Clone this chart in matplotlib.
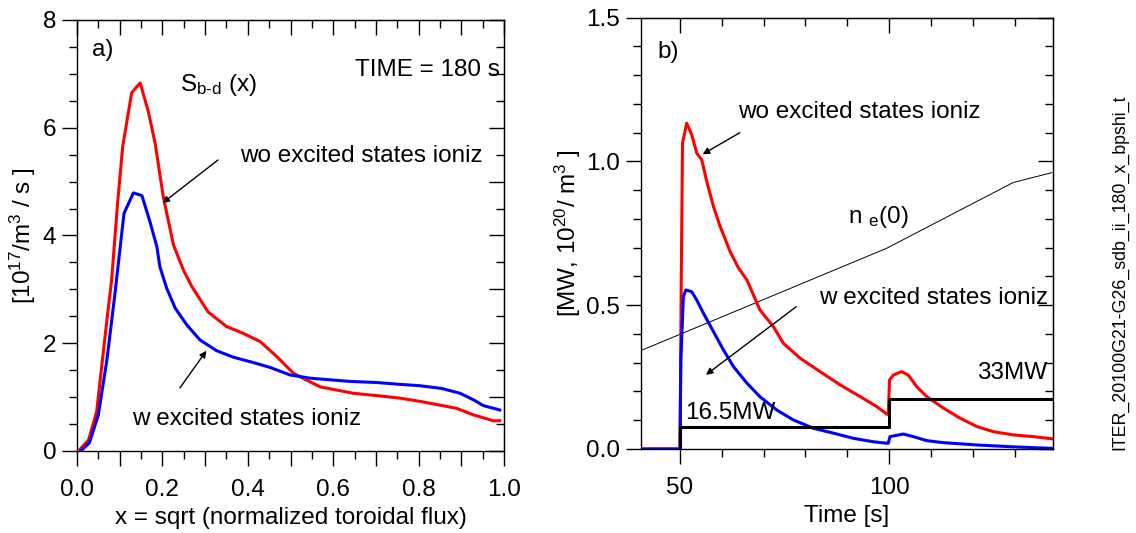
import matplotlib
matplotlib.use("Agg")
import matplotlib.pyplot as plt
from matplotlib.ticker import MultipleLocator, FixedLocator, FuncFormatter

plt.rcParams["font.family"] = ["Liberation Sans", "DejaVu Sans"]
plt.rcParams["mathtext.fontset"] = "custom"
plt.rcParams["mathtext.rm"] = "Liberation Sans"
plt.rcParams["mathtext.it"] = "Liberation Sans:italic"

# panel a) source profile S_b-d(x) at t = 180 s
x_wo = [0.007, 0.027, 0.046, 0.07, 0.081, 0.095, 0.107, 0.128, 0.148, 0.167, 0.183,
        0.202, 0.226, 0.249, 0.269, 0.307, 0.350, 0.390, 0.429, 0.468, 0.507, 0.569,
        0.647, 0.710, 0.756, 0.803, 0.850, 0.889, 0.928, 0.975, 0.99]
s_wo = [0.03, 0.2, 0.73, 2.43, 3.17, 4.6, 5.65, 6.65, 6.83, 6.3, 5.71,
        4.72, 3.82, 3.36, 3.05, 2.58, 2.31, 2.18, 2.03, 1.75, 1.44, 1.19,
        1.07, 1.02, 0.98, 0.92, 0.85, 0.79, 0.67, 0.56, 0.56]
x_w = [0.009, 0.029, 0.05, 0.07, 0.089, 0.110, 0.132, 0.152, 0.171, 0.187, 0.194,
       0.210, 0.230, 0.257, 0.288, 0.327, 0.366, 0.413, 0.452, 0.499, 0.546, 0.593,
       0.639, 0.702, 0.749, 0.803, 0.854, 0.897, 0.928, 0.952, 0.99]
s_w = [0.0, 0.15, 0.67, 1.69, 2.93, 4.41, 4.79, 4.74, 4.25, 3.79, 3.42,
       3.02, 2.65, 2.34, 2.06, 1.86, 1.74, 1.64, 1.55, 1.41, 1.35, 1.32,
       1.29, 1.27, 1.24, 1.21, 1.16, 1.07, 0.95, 0.84, 0.76]

# panel b) time traces
t_wo = [40.6, 50.0, 50.3, 50.6, 51.6, 52.8, 54.0, 55.2, 56.4, 58.0, 59.6, 62.0, 64.0,
        66.0, 69.1, 72.3, 74.7, 78.7, 83.5, 88.3, 93.1, 97.1, 99.4, 99.8, 100.1,
        101.0, 103.0, 104.6, 106.6, 109.0, 113.0, 117.0, 121.0, 125.0, 129.7,
        134.5, 139.2]
p_wo = [0.0, 0.0, 0.6, 1.064, 1.133, 1.093, 1.029, 1.006, 0.930, 0.843, 0.774, 0.686, 0.629,
        0.588, 0.484, 0.426, 0.368, 0.316, 0.269, 0.223, 0.182, 0.147, 0.122, 0.12, 0.240,
        0.257, 0.269, 0.257, 0.217, 0.182, 0.142, 0.107, 0.078, 0.060, 0.049,
        0.043, 0.035]
t_w = [40.6, 50.0, 50.2, 50.8, 51.4, 52.8, 54.0, 55.6, 58.0, 60.4, 62.8, 66.0, 69.1,
       73.1, 77.1, 81.9, 86.7, 91.5, 96.3, 99.4, 99.8, 100.2, 103.4, 105.8, 109.0,
       113.0, 121.0, 129.0, 139.2]
p_w = [0.0, 0.0, 0.31, 0.53, 0.553, 0.547, 0.518, 0.472, 0.408, 0.344, 0.286, 0.229, 0.182,
       0.136, 0.101, 0.072, 0.055, 0.037, 0.025, 0.020, 0.02, 0.043, 0.052, 0.043, 0.029,
       0.022, 0.014, 0.008, 0.002]
t_nbi = [50.0, 50.0, 100.0, 100.0, 139.2]
p_nbi = [0.0, 0.077, 0.077, 0.173, 0.173]
t_ne = [40.6, 99.4, 115.0, 129.7, 138.9]
n_e0 = [0.342, 0.698, 0.816, 0.927, 0.961]

RED = "#ff0000"
BLUE = "#0000ff"
FS = 17.5


def add_frame_ticks(ax, xmaj, xmin, ymaj, ymin):
    # outward ticks on left/bottom, inward ticks on top/right
    ax.tick_params(which="major", direction="out", length=11, width=1.0,
                   labelsize=FS, pad=4)
    ax.tick_params(axis="x", which="major", pad=9)
    ax.tick_params(which="minor", direction="out", length=5.5, width=1.0)
    top = ax.secondary_xaxis("top")
    right = ax.secondary_yaxis("right")
    top.xaxis.set_major_locator(xmaj)
    top.xaxis.set_minor_locator(xmin)
    right.yaxis.set_major_locator(ymaj)
    right.yaxis.set_minor_locator(ymin)
    for s in (top, right):
        s.tick_params(which="major", direction="in", length=11, width=1.0)
        s.tick_params(which="minor", direction="in", length=5.5, width=1.0)
        s.tick_params(labeltop=False, labelright=False, labelbottom=False,
                      labelleft=False)
    for sp in ax.spines.values():
        sp.set_linewidth(1.0)


fig = plt.figure(figsize=(11.36, 5.33), dpi=100)
ax1 = fig.add_axes([0.0678, 0.154, 0.3759, 0.8085])
ax2 = fig.add_axes([0.564, 0.1576, 0.363, 0.8092])

# ---- panel a
ax1.plot(x_wo, s_wo, color=RED, lw=2.2)
ax1.plot(x_w, s_w, color=BLUE, lw=2.2)
ax1.set_xlim(0, 1.0)
ax1.set_ylim(0, 8)
ax1.xaxis.set_major_locator(FixedLocator([i / 10 for i in range(11)]))
ax1.xaxis.set_minor_locator(MultipleLocator(0.05))
ax1.xaxis.set_major_formatter(FuncFormatter(
    lambda v, p: f"{v:.1f}" if round(v * 10) % 2 == 0 else ""))
ax1.yaxis.set_major_locator(MultipleLocator(2))
ax1.yaxis.set_minor_locator(MultipleLocator(0.5))
add_frame_ticks(ax1, FixedLocator([i / 10 for i in range(11)]), MultipleLocator(0.05),
                MultipleLocator(1), MultipleLocator(0.5))
ax1.set_xlabel("x = sqrt (normalized toroidal flux)", fontsize=FS, labelpad=4.5)
ax1.set_ylabel(r"[10$^{17}$/m$^{3}$ / s ]", fontsize=FS, labelpad=3)

ax1.text(0.035, 0.93, "a)", transform=ax1.transAxes, fontsize=FS, va="center")
ax1.text(0.99, 0.885, "TIME = 180 s", transform=ax1.transAxes, fontsize=FS,
         ha="right", va="center")
ax1.text(0.24, 0.85, r"S$_{\text{b-d}}$ (x)", transform=ax1.transAxes, fontsize=FS,
         va="center")
ax1.text(0.382, 0.685, "wo excited states ioniz", transform=ax1.transAxes,
         fontsize=FS, va="center")
ax1.text(0.128, 0.075, "w excited states ioniz", transform=ax1.transAxes,
         fontsize=FS, va="center")
ax1.annotate("", xy=(0.2, 4.6), xytext=(0.33, 5.4),
             arrowprops=dict(arrowstyle="-|>", color="black", lw=1.0,
                             mutation_scale=10, shrinkA=0, shrinkB=0))
ax1.annotate("", xy=(0.303, 1.86), xytext=(0.241, 1.17),
             arrowprops=dict(arrowstyle="-|>", color="black", lw=1.0,
                             mutation_scale=10, shrinkA=0, shrinkB=0))

# ---- panel b
ax2.plot(t_ne, n_e0, color="black", lw=0.7)
ax2.plot(t_wo, p_wo, color=RED, lw=2.2)
ax2.plot(t_w, p_w, color=BLUE, lw=2.2)
ax2.plot(t_nbi, p_nbi, color="black", lw=2.2)
ax2.set_xlim(40.6, 139.2)
ax2.set_ylim(0, 1.5)
ax2.xaxis.set_major_locator(MultipleLocator(50))
ax2.xaxis.set_minor_locator(MultipleLocator(10))
ax2.yaxis.set_major_locator(MultipleLocator(0.5))
ax2.yaxis.set_minor_locator(MultipleLocator(0.1))
ax2.yaxis.set_major_formatter(FuncFormatter(lambda v, p: f"{v:.1f}"))
add_frame_ticks(ax2, MultipleLocator(50), MultipleLocator(10),
                MultipleLocator(0.5), MultipleLocator(0.1))
ax2.set_xlabel("Time [s]", fontsize=FS, labelpad=4.5)
ax2.set_ylabel(r"[MW, 10$^{20}$/ m$^{3}$ ]", fontsize=FS, labelpad=2)

ax2.text(0.04, 0.921, "b)", transform=ax2.transAxes, fontsize=FS, va="center")
ax2.text(0.235, 0.782, "wo excited states ioniz", transform=ax2.transAxes,
         fontsize=FS, va="center")
ax2.text(0.503, 0.538, r"n $_{\rm e}$(0)", transform=ax2.transAxes, fontsize=FS,
         va="center")
ax2.text(0.432, 0.35, "w excited states ioniz", transform=ax2.transAxes,
         fontsize=FS, va="center")
ax2.text(0.985, 0.176, "33MW", transform=ax2.transAxes, fontsize=FS,
         ha="right", va="center")
ax2.text(0.108, 0.0835, "16.5MW", transform=ax2.transAxes, fontsize=FS,
         va="center")
ax2.annotate("", xy=(55.4, 1.025), xytext=(64.3, 1.1),
             arrowprops=dict(arrowstyle="-|>", color="black", lw=1.0,
                             mutation_scale=10, shrinkA=0, shrinkB=0))
ax2.annotate("", xy=(56.2, 0.258), xytext=(77.8, 0.495),
             arrowprops=dict(arrowstyle="-|>", color="black", lw=1.0,
                             mutation_scale=10, shrinkA=0, shrinkB=0))

fig.text(0.986, 0.49, "ITER_20100G21-G26_sdb_ii_180_x_bpshi_t", rotation=90,
         fontsize=12.8, ha="center", va="center")

fig.savefig("out.png", dpi=100)
